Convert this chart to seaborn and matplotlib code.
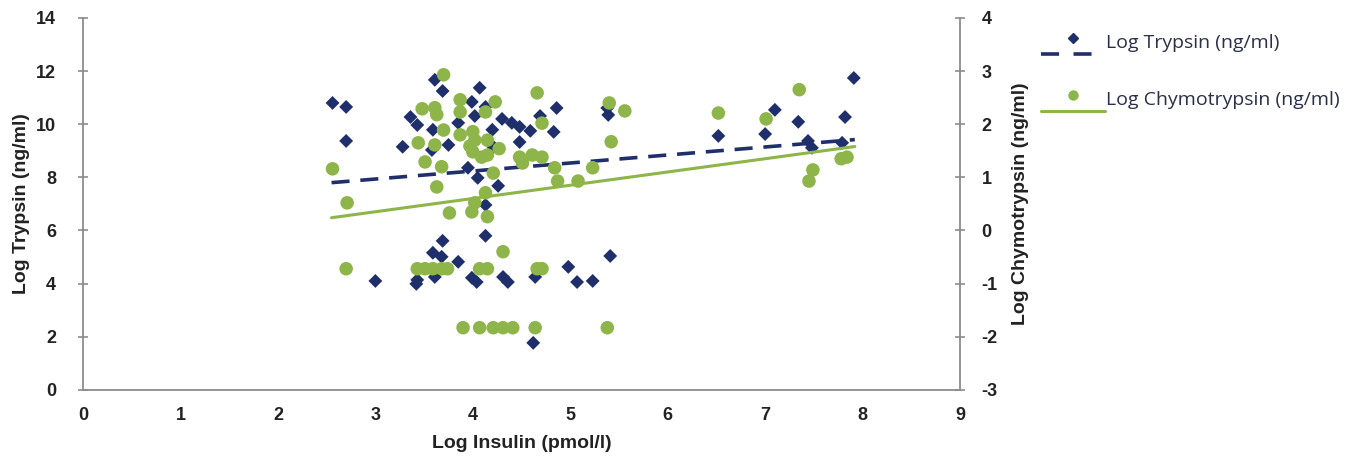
import matplotlib
matplotlib.use("Agg")
import matplotlib.pyplot as plt
import seaborn as sns
import pandas as pd
from matplotlib.lines import Line2D
from matplotlib.legend_handler import HandlerBase

# ---------------- data ----------------
trypsin_x = [2.56, 2.70, 2.70, 3.00, 3.28, 3.36, 3.43, 3.43, 3.42, 3.61, 3.69, 3.59, 3.75, 3.58,
             3.85, 4.07, 3.99, 4.13, 4.02, 4.20, 4.30, 4.40, 4.48, 4.59, 4.69, 4.86, 4.83,
             4.48, 4.21, 3.95, 4.05, 4.26, 4.13, 4.13, 3.69, 5.38, 5.39, 6.52, 7.00, 7.10,
             7.34, 7.44, 7.48, 7.82, 7.79, 7.91, 3.59, 3.68, 3.85, 3.61, 3.99, 4.04, 4.31,
             4.36, 4.64, 4.62, 4.98, 5.07, 5.23, 5.41]
trypsin_y = [10.80, 10.65, 9.37, 4.10, 9.15, 10.27, 9.97, 4.14, 3.99, 11.67, 11.25, 9.79, 9.22, 9.03,
             10.05, 11.37, 10.84, 10.65, 10.31, 9.79, 10.20, 10.05, 9.90, 9.75, 10.31, 10.61, 9.71,
             9.33, 9.15, 8.36, 7.98, 7.68, 6.96, 5.80, 5.61, 10.61, 10.35, 9.56, 9.63, 10.54,
             10.09, 9.37, 9.11, 10.27, 9.30, 11.74, 5.16, 5.01, 4.82, 4.25, 4.22, 4.06, 4.25,
             4.06, 4.25, 1.77, 4.63, 4.06, 4.10, 5.04]

chymo_x = [3.70, 2.56, 2.71, 3.48, 3.61, 3.63, 3.70, 3.44, 3.61, 3.51, 3.68, 3.63, 3.87, 3.87,
           4.13, 4.23, 3.87, 4.00, 4.02, 4.15, 3.97, 4.00, 4.09, 4.15, 4.27, 4.21, 4.13, 4.02,
           3.99, 4.15, 3.76, 4.66, 4.71, 4.48, 4.51, 4.61, 4.71, 4.84, 4.87, 5.08, 5.23, 5.40,
           5.56, 5.42, 6.52, 7.01, 7.35, 7.49, 7.45, 7.78, 7.84, 4.31, 4.66, 4.71, 2.70, 3.43,
           3.51, 3.59, 3.68, 3.74, 4.07, 4.15, 3.90, 4.07, 4.21, 4.31, 4.41, 4.64, 5.38]
chymo_y = [2.93, 1.16, 0.52, 2.29, 2.31, 2.18, 1.89, 1.65, 1.61, 1.29, 1.20, 0.82, 2.46, 2.23,
           2.23, 2.42, 1.80, 1.86, 1.70, 1.70, 1.59, 1.48, 1.38, 1.42, 1.54, 1.08, 0.71, 0.52,
           0.35, 0.26, 0.33, 2.59, 2.02, 1.38, 1.27, 1.42, 1.38, 1.18, 0.93, 0.93, 1.18, 2.40,
           2.25, 1.67, 2.21, 2.10, 2.65, 1.14, 0.93, 1.35, 1.38, -0.40, -0.72, -0.72, -0.72, -0.72,
           -0.72, -0.72, -0.72, -0.72, -0.72, -0.72, -1.83, -1.83, -1.83, -1.83, -1.83, -1.83, -1.83]

# trend lines (end points)
trend_x = [2.55, 7.92]
trend_trypsin = [7.80, 9.42]
trend_chymo = [0.24, 1.58]

x_ticks = list(range(0, 10))
left_ticks = list(range(0, 15, 2))
right_ticks = list(range(-3, 5))

label_trypsin = "Log Trypsin (ng/ml)"
label_chymo = "Log Chymotrypsin (ng/ml)"
label_x = "Log Insulin (pmol/l)"

# ---------------- style ----------------
sns.set_style("white")
plt.rcParams['font.family'] = ['Liberation Sans', 'DejaVu Sans']

NAVY = "#1F2F6B"
GREEN = "#8DB54A"
SPINE = "#8C8C8C"

fig = plt.figure(figsize=(13.66, 4.72), dpi=100)
ax = fig.add_axes([0.0608, 0.174, 0.642, 0.788])
ax2 = ax.twinx()

df_t = pd.DataFrame({"x": trypsin_x, "y": trypsin_y})
df_c = pd.DataFrame({"x": chymo_x, "y": chymo_y})
df_tt = pd.DataFrame({"x": trend_x, "y": trend_trypsin})
df_tc = pd.DataFrame({"x": trend_x, "y": trend_chymo})

sns.scatterplot(data=df_t, x="x", y="y", ax=ax, marker="D", s=50, color=NAVY,
                edgecolor="none", zorder=3)
sns.lineplot(data=df_tt, x="x", y="y", ax=ax, color=NAVY, lw=2.6, zorder=4)
ax.lines[-1].set_dashes([5, 3])

sns.scatterplot(data=df_c, x="x", y="y", ax=ax2, marker="o", s=95, color=GREEN,
                edgecolor="none", zorder=3)
sns.lineplot(data=df_tc, x="x", y="y", ax=ax2, color=GREEN, lw=2.2, zorder=4)

ax.set_xlim(0, 9)
ax.set_ylim(0, 14)
ax2.set_ylim(-3, 4)
ax.set_xticks(x_ticks)
ax.set_yticks(left_ticks)
ax2.set_yticks(right_ticks)

tick_font = dict(fontsize=13, fontweight="bold", color="#222222")
ax.set_xticklabels([str(v) for v in x_ticks], **tick_font)
ax.set_yticklabels([str(v) for v in left_ticks], **tick_font)
ax2.set_yticklabels([str(v) for v in right_ticks], **tick_font)

for a in (ax, ax2):
    a.spines["top"].set_visible(False)
    for side in ("left", "right", "bottom"):
        a.spines[side].set_color(SPINE)
        a.spines[side].set_linewidth(1.3)
    a.tick_params(axis="both", direction="inout", length=7, width=1.2, color=SPINE, pad=8)
ax.spines["right"].set_visible(False)
ax2.spines["left"].set_visible(False)
ax2.spines["bottom"].set_visible(False)
ax.tick_params(axis="x", direction="out", length=6, pad=6)
ax.tick_params(axis="y", pad=16)
ax2.tick_params(axis="y", pad=12)

ax.set_xlabel(label_x, fontsize=14, fontweight="bold", color="#222222", labelpad=8)
ax.set_ylabel(label_trypsin, fontsize=14, fontweight="bold", color="#222222", labelpad=4)
ax2.set_ylabel(label_chymo, fontsize=14, fontweight="bold", color="#222222", labelpad=10)
ax.grid(False)
ax2.grid(False)


class MarkerAboveLine(HandlerBase):
    def create_artists(self, legend, orig_handle, xdescent, ydescent, width, height,
                       fontsize, trans):
        mk, ln = orig_handle
        y_line = -ydescent - 0.45 * height
        line = Line2D([-xdescent, width - xdescent], [y_line, y_line],
                      color=ln.get_color(), lw=ln.get_linewidth(), linestyle=ln.get_linestyle())
        if ln.get_linestyle() == "--":
            line.set_dashes([5, 4])
        mark = Line2D([width / 2 - xdescent], [height / 2 - ydescent + 2], marker=mk.get_marker(),
                      markersize=mk.get_markersize(), color=mk.get_color(), linestyle="none")
        line.set_transform(trans)
        mark.set_transform(trans)
        return [line, mark]


h_t = (Line2D([], [], marker="D", markersize=5.5, color=NAVY, linestyle="none"),
       Line2D([], [], color=NAVY, lw=2.6, linestyle="--"))
h_c = (Line2D([], [], marker="o", markersize=6.5, color=GREEN, linestyle="none"),
       Line2D([], [], color=GREEN, lw=2.2, linestyle="-"))
leg = fig.legend([h_t, h_c], [label_trypsin, label_chymo],
                 handler_map={tuple: MarkerAboveLine()},
                 loc="upper left", bbox_to_anchor=(0.749, 0.965), frameon=False,
                 handlelength=3.3, handletextpad=0.05, labelspacing=2.0,
                 prop={"family": ["Open Sans", "DejaVu Sans"], "size": 14})
for t in leg.get_texts():
    t.set_color("#2B2F4A")

fig.savefig("out.png", dpi=100)
